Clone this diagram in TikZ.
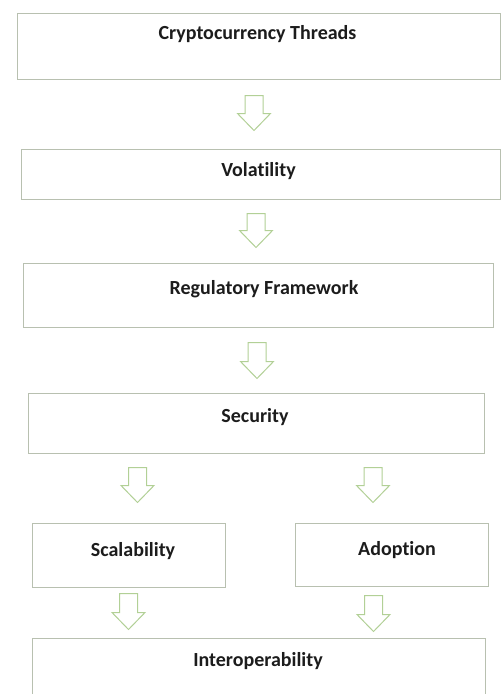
\documentclass[tikz,border=0pt]{standalone}
\usepackage{fontspec}
\setmainfont{Carlito}[RawFeature=-liga]
\usetikzlibrary{calc}

\definecolor{boxline}{RGB}{184,192,176}
\definecolor{arrowgreen}{RGB}{178,208,150}
\definecolor{inktext}{RGB}{28,28,28}

% hollow block arrow pointing down, from the top of its shaft (#1) to its tip (#2)
\newcommand\blockarrow[2]{%
  \draw[arrowline] let \p1=(#1), \p2=(#2) in
    (\x1-9pt,\y1) -- (\x1+9pt,\y1) -- (\x1+9pt,\y2+17pt)
    -- (\x1+16.5pt,\y2+17pt) -- (\x1,\y2) -- (\x1-16.5pt,\y2+17pt)
    -- (\x1-9pt,\y2+17pt) -- cycle;}

\begin{document}
\begin{tikzpicture}[x=1pt,y=-1pt,
  stage/.style={draw=boxline, line width=1pt, fill=white, rectangle, inner sep=0pt},
  caption/.style={anchor=base, inner sep=0pt, text=inktext, font=\fontsize{20}{24}\selectfont\bfseries},
  arrowline/.style={draw=arrowgreen, line width=1pt, fill=white, line join=miter}]

\useasboundingbox (0,0) rectangle (501,694);

\node[stage, minimum width=483pt, minimum height=66pt,
  label={[caption, xshift=-1pt, yshift=-27pt]north:Cryptocurrency Threads}] (threads) at (258.5,46) {};
\node[stage, minimum width=479pt, minimum height=50pt,
  label={[caption, xshift=-2pt, yshift=-28pt]north:Volatility}] (volatility) at (260.5,174) {};
\node[stage, minimum width=470pt, minimum height=64pt,
  label={[caption, xshift=6pt, yshift=-32pt]north:Regulatory Framework}] (regulatory) at (258,295) {};
\node[stage, minimum width=456pt, minimum height=60pt,
  label={[caption, xshift=-1pt, yshift=-30pt]north:Security}] (security) at (256,423) {};
\node[stage, minimum width=193pt, minimum height=64pt,
  label={[caption, xshift=4.5pt, yshift=-34pt]north:Scalability}] (scalability) at (128.5,555) {};
\node[stage, minimum width=193pt, minimum height=63pt,
  label={[caption, xshift=5.5pt, yshift=-33pt]north:Adoption}] (adoption) at (391.5,554.5) {};
\node[stage, minimum width=453pt, minimum height=70pt,
  label={[caption, xshift=-0.5pt, yshift=-29pt]north:Interoperability}] (interop) at (258.5,673) {};

% shaft tops and tips of the block arrows
\path (threads.south) ++(-4.5,16) coordinate (a1s);
\path (volatility.north) ++(-6.5,-18) coordinate (a1e);
\path (volatility.south) ++(-4.5,14) coordinate (a2s);
\path (regulatory.north) ++(-2,-15) coordinate (a2e);
\path (regulatory.south) ++(-1,15) coordinate (a3s);
\path (security.north) ++(1,-14) coordinate (a3e);
\path (security.south) ++(-118.5,14) coordinate (a4ls);
\path (scalability.north) ++(9,-20) coordinate (a4le);
\path (security.south) ++(117,14) coordinate (a4rs);
\path (adoption.north) ++(-18.5,-20) coordinate (a4re);
\path (scalability.south) ++(0,6) coordinate (a5ls);
\path (interop.north) ++(-130,-8) coordinate (a5le);
\path (adoption.south) ++(-18,9) coordinate (a5rs);
\path (interop.north) ++(115,-6) coordinate (a5re);

\blockarrow{a1s}{a1e}
\blockarrow{a2s}{a2e}
\blockarrow{a3s}{a3e}
\blockarrow{a4ls}{a4le}
\blockarrow{a4rs}{a4re}
\blockarrow{a5ls}{a5le}
\blockarrow{a5rs}{a5re}

\end{tikzpicture}
\end{document}
